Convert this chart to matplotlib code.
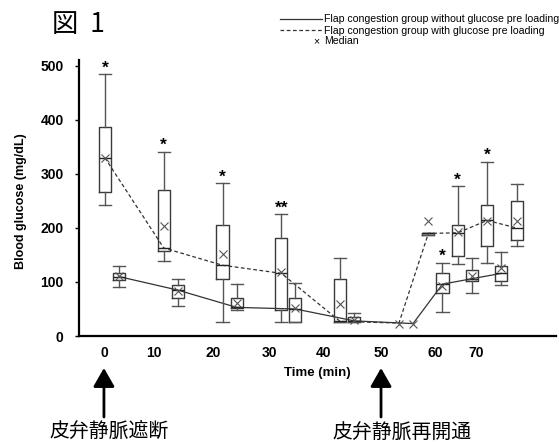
import matplotlib.pyplot as plt
from matplotlib.lines import Line2D

# Time points (min) for each group
t_with = [0, 10, 20, 30, 40, 50, 55, 60, 65, 70]
t_without = [0, 10, 20, 30, 40, 50, 55, 60, 65]

# Flap congestion group WITH glucose pre loading (dashed); None = no box drawn
with_whishi = [485, 341, 283, 225, 144, None, 191, 277, 323, 282]
with_q3 = [387, 271, 205, 181, 105, None, 191, 206, 242, 250]
with_med = [330, 163, 131, 116, 27, 24, 190, 191, 214, 200]
with_q1 = [267, 157, 106, 49, 25, None, 187, 148, 166, 177]
with_whislo = [242, 139, 25, 25, 25, None, 187, 134, 136, 167]
with_mean = [330, 203, 152, 119, 60, 23, 213, 192, 213, 213]
with_sig = ['*', '*', '*', '**', '', '', '', '*', '*', '']

# Flap congestion group WITHOUT glucose pre loading (solid)
wo_whishi = [130, 106, 97, 99, 42, None, 136, 145, 156]
wo_q3 = [116, 95, 71, 70, 35, None, 117, 123, 130]
wo_med = [110, 85, 53, 50, 28, 23, 96, 106, 116]
wo_q1 = [104, 71, 51, 25, 25, None, 79, 101, 102]
wo_whislo = [90, 55, 49, 25, 25, None, 45, 79, 94]
wo_mean = [111, 84, 61, 51, 30, 23, 92, 111, 125]
wo_sig = ['', '', '', '', '', '', '*', '', '']

xtick_labels = ['0', '10', '20', '30', '40', '50', '60', '70']
xtick_pos = [-1.36, 7.14, 17.2, 26.7, 36.05, 45.75, 54.9, 61.9]

plt.rcParams['font.family'] = ['Liberation Sans', 'DejaVu Sans']
JP = ['Noto Sans CJK JP', 'DejaVu Sans']

fig = plt.figure(figsize=(5.59, 4.42), dpi=100)
ax = fig.add_axes([79 / 559, 106 / 442, 477 / 559, 276 / 442])

offset = 1.2
box_w = 2.05


def draw_group(times, whishi, q3, med, q1, whislo, mean, sig, shift, ls):
    pos = [t + shift for t in times]
    stats, bpos = [], []
    for i, p in enumerate(pos):
        if q1[i] is None:
            continue
        stats.append(dict(med=med[i], q1=q1[i], q3=q3[i], whislo=whislo[i],
                          whishi=whishi[i], fliers=[]))
        bpos.append(p)
    ax.bxp(stats, positions=bpos, widths=box_w, capwidths=box_w,
           showfliers=False, manage_ticks=False,
           boxprops=dict(color='#3a3a3a', lw=1.0),
           whiskerprops=dict(color='#555555', lw=1.0),
           capprops=dict(color='#555555', lw=1.0),
           medianprops=dict(color='#222222', lw=1.0))
    line, = ax.plot(pos, med, color='#333333', lw=0.9, ls=ls, zorder=1)
    if ls == '--':
        line.set_dashes((3, 2))
    ax.plot(pos, mean, ls='none', marker='x', ms=5.5, mew=0.8,
            color='#555555', zorder=3)
    for p, top, s in zip(pos, whishi, sig):
        if s:
            ax.annotate(s, (p, top), xytext=(0, -1), textcoords='offset points',
                        ha='center', va='bottom', fontsize=12.5,
                        fontweight='bold')


draw_group(t_with, with_whishi, with_q3, with_med, with_q1, with_whislo,
           with_mean, with_sig, -offset, '--')
draw_group(t_without, wo_whishi, wo_q3, wo_med, wo_q1, wo_whislo,
           wo_mean, wo_sig, offset, '-')

ax.set_xlim(-5.6, 75.5)
ax.set_ylim(0, 511)
ax.set_yticks([0, 100, 200, 300, 400, 500])
ax.set_xticks(xtick_pos)
ax.set_xticklabels(xtick_labels, fontsize=10, fontweight='bold')
for lab in ax.get_yticklabels():
    lab.set_fontsize(10)
    lab.set_fontweight('bold')
ax.tick_params(axis='x', length=0, pad=7)
ax.tick_params(axis='y', length=3, width=1, pad=8)
for s in ['top', 'right']:
    ax.spines[s].set_visible(False)
for s in ['left', 'bottom']:
    ax.spines[s].set_linewidth(1.6)
ax.set_xlabel('Time (min)', fontsize=9.5, fontweight='bold', labelpad=5)
fig.text(21 / 559, 1 - 201 / 442, 'Blood glucose (mg/dL)', rotation=90,
         ha='center', va='center', fontsize=9, fontweight='bold')

# title
fig.text(52 / 559, 1 - 24 / 442, '図  1', family=JP, fontsize=19,
         ha='left', va='center')

# legend (drawn by hand to match layout)
fig.add_artist(Line2D([280 / 559, 322 / 559], [1 - 19 / 442] * 2,
                      color='#333333', lw=0.9, transform=fig.transFigure))
fig.add_artist(Line2D([280 / 559, 322 / 559], [1 - 30 / 442] * 2,
                      color='#333333', lw=0.9, ls=(0, (3, 2)),
                      transform=fig.transFigure))
legend_texts = ['Flap congestion group without glucose pre loading',
                'Flap congestion group with glucose pre loading', 'Median']
for yy, txt in zip([19, 30.5, 41], legend_texts):
    fig.text(324 / 559, 1 - yy / 442, txt, fontsize=7.6, ha='left', va='center')
fig.text(316 / 559, 1 - 41 / 442, '×', fontsize=7.6, ha='center', va='center')

# arrows and Japanese annotations
for xp, label, xt in [(xtick_pos[0], '皮弁静脈遮断', -0.5),
                      (xtick_pos[5], '皮弁静脈再開通', 49.3)]:
    ax.annotate('', xy=(xp, 74), xycoords=('data', 'figure pixels'),
                xytext=(xp, 25), textcoords=('data', 'figure pixels'),
                arrowprops=dict(arrowstyle='-|>,head_length=0.42,head_width=0.24',
                                mutation_scale=27, lw=2, color='black',
                                shrinkA=0, shrinkB=0))
    ax.annotate(label, xy=(xt, 10), xycoords=('data', 'figure pixels'),
                ha='center', va='center', fontsize=14.3, family=JP,
                annotation_clip=False)

fig.savefig('out.png', dpi=100)
